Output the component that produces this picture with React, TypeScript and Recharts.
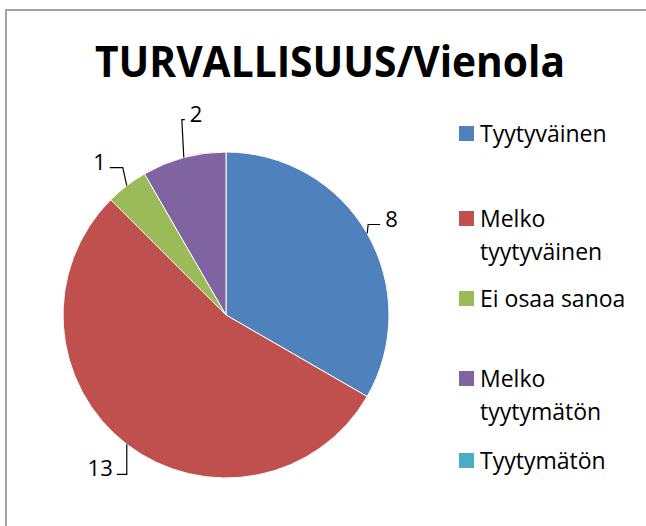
import { PieChart, Pie, Cell, Legend } from 'recharts';

const CATEGORIES = [
  'Tyytyväinen',
  'Melko tyytyväinen',
  'Ei osaa sanoa',
  'Melko tyytymätön',
  'Tyytymätön',
];
const LEGEND_LINES = [
  ['Tyytyväinen'],
  ['Melko', 'tyytyväinen'],
  ['Ei osaa sanoa'],
  ['Melko', 'tyytymätön'],
  ['Tyytymätön'],
];
const VALUES = [8, 13, 1, 2, 0];
const COLORS = ['#4F81BD', '#C0504D', '#9BBB59', '#8064A2', '#4BACC6'];

const TITLE = 'TURVALLISUUS/Vienola';

const data = CATEGORIES.map((name, i) => ({ name, value: VALUES[i] }));

// leader line shapes (Excel best-fit), relative to the slice's outer edge point
const LEADERS = [
  { elbow: [1, -9], end: [13, -9], side: 'right' },
  { elbow: [0, 30], end: [-10, 30], side: 'left' },
  { elbow: [-4, -18], end: [-17, -18], side: 'left' },
  { elbow: [-2, -38], end: [1, -38], side: 'right' },
  null,
];

const LEGEND_TOPS = [133, 218, 298, 378, 460];
const FONT = "'Open Sans', sans-serif";

const RAD = Math.PI / 180;

const renderLabel = (props: any) => {
  const { cx, cy, midAngle, outerRadius, index, value } = props;
  const lead = LEADERS[index];
  if (!lead || !value) return null;
  const ex = cx + outerRadius * Math.cos(midAngle * RAD);
  const ey = cy - outerRadius * Math.sin(midAngle * RAD);
  const bx = ex + lead.elbow[0];
  const by = ey + lead.elbow[1];
  const tx = ex + lead.end[0];
  const ty = ey + lead.end[1];
  const right = lead.side === 'right';
  return (
    <g key={`lbl-${index}`}>
      <polyline
        points={`${ex},${ey} ${bx},${by} ${tx},${ty}`}
        fill="none"
        stroke="#000"
        strokeWidth={1.2}
      />
      <text
        x={right ? tx + 5 : tx - 4}
        y={ty - 7}
        textAnchor={right ? 'start' : 'end'}
        dominantBaseline="central"
        fontFamily={FONT}
        fontSize={22}
        fill="#000"
      >
        {value}
      </text>
    </g>
  );
};

const renderLegend = () => (
  <div style={{ position: 'relative', width: 646, height: 526 }}>
    {LEGEND_LINES.map((lines, i) => (
      <div
        key={CATEGORIES[i]}
        style={{
          position: 'absolute',
          left: 459,
          top: LEGEND_TOPS[i] - 16,
          display: 'flex',
          alignItems: 'flex-start',
        }}
      >
        <div
          style={{
            width: 15,
            height: 15,
            background: COLORS[i],
            marginTop: 9,
            marginRight: 6,
          }}
        />
        <div
          style={{
            fontFamily: FONT,
            fontSize: 23,
            lineHeight: '33px',
            color: '#000',
            whiteSpace: 'nowrap',
          }}
        >
          {lines.map((l) => (
            <div key={l}>{l}</div>
          ))}
        </div>
      </div>
    ))}
  </div>
);

export default function App() {
  return (
    <div
      style={{
        position: 'absolute',
        left: 0,
        top: 0,
        width: 646,
        height: 526,
        overflow: 'hidden',
        background: '#fff',
      }}
    >
      <div
        style={{
          position: 'absolute',
          left: 5,
          top: 9,
          width: 700,
          height: 600,
          border: '2px solid #a3a3a3',
        }}
      />
      <div style={{ position: 'absolute', left: 0, top: 0 }}>
        <PieChart width={646} height={526} margin={{ top: 0, right: 0, bottom: 0, left: 0 }}>
          <Pie
            data={data}
            dataKey="value"
            nameKey="name"
            cx={226}
            cy={315}
            outerRadius={163}
            startAngle={90}
            endAngle={-270}
            stroke="#fff"
            strokeWidth={1}
            labelLine={false}
            label={renderLabel}
            isAnimationActive={false}
          >
            {data.map((d, i) => (
              <Cell key={d.name} fill={COLORS[i]} />
            ))}
          </Pie>
          <Legend
            content={renderLegend}
            wrapperStyle={{ position: 'absolute', left: 0, top: 0, width: 646, height: 526 }}
          />
        </PieChart>
      </div>
      <svg
        width={646}
        height={526}
        style={{ position: 'absolute', left: 0, top: 0, pointerEvents: 'none' }}
      >
        <text
          x={95}
          y={77}
          textLength={470}
          lengthAdjust="spacingAndGlyphs"
          fontFamily={FONT}
          fontWeight={700}
          fontSize={43}
          fill="#000"
        >
          {TITLE}
        </text>
      </svg>
    </div>
  );
}
